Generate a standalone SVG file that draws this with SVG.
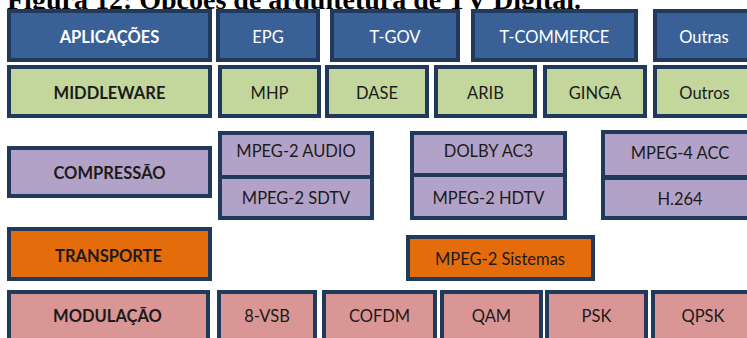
<svg xmlns="http://www.w3.org/2000/svg" width="747" height="338" viewBox="0 0 747 338">
<style>
.n{stroke:#213a5c;stroke-width:4}
.ap{fill:#3a6197}
.mw{fill:#c3d69b}
.cp{fill:#b3a2c7}
.tr{fill:#e46c0a}
.md{fill:#d99694}
text{font-family:Lato,"Open Sans",sans-serif;font-size:16.5px;text-anchor:middle;fill:#1b1b1b}
.b{font-weight:bold}
.w{fill:#ffffff}
.title{font-family:"Liberation Serif","Times New Roman",serif;font-size:28px;font-weight:bold;text-anchor:start;fill:#000}
</style>
<rect width="747" height="338" fill="#ffffff"/>
<text class="title" x="7" y="9">Figura 12: Opções de arquitetura de TV Digital.</text>
<g id="connectors"/>
<g id="aplicacoes"><rect class="n ap" x="9" y="11" width="201" height="49"/><text class="b w" x="109.5" y="43">APLICAÇÕES</text></g>
<g id="epg"><rect class="n ap" x="218" y="11" width="100" height="49"/><text class="w" x="268" y="43">EPG</text></g>
<g id="tgov"><rect class="n ap" x="332" y="11" width="126" height="49"/><text class="w" x="395" y="43">T-GOV</text></g>
<g id="tcommerce"><rect class="n ap" x="473" y="11" width="163" height="49"/><text class="w" x="554.5" y="43">T-COMMERCE</text></g>
<g id="outras"><rect class="n ap" x="655" y="11" width="100" height="49"/><text class="w" x="704" y="43">Outras</text></g>

<g id="middleware"><rect class="n mw" x="9" y="67" width="201" height="49"/><text class="b" x="109.5" y="99">MIDDLEWARE</text></g>
<g id="mhp"><rect class="n mw" x="220" y="67" width="99" height="49"/><text x="269.5" y="99">MHP</text></g>
<g id="dase"><rect class="n mw" x="327" y="67" width="100" height="49"/><text x="377" y="99">DASE</text></g>
<g id="arib"><rect class="n mw" x="436" y="67" width="99" height="49"/><text x="485.5" y="99">ARIB</text></g>
<g id="ginga"><rect class="n mw" x="545" y="67" width="100" height="49"/><text x="595" y="99">GINGA</text></g>
<g id="outros"><rect class="n mw" x="655" y="67" width="100" height="49"/><text x="704.5" y="99">Outros</text></g>

<g id="compressao"><rect class="n cp" x="9" y="148" width="201" height="48"/><text class="b" x="109.5" y="179">COMPRESSÃO</text></g>
<g id="mpeg2audio"><rect class="n cp" x="220" y="133" width="152" height="44"/><text x="296" y="157">MPEG-2 AUDIO</text></g>
<g id="mpeg2sdtv"><rect class="n cp" x="220" y="177" width="152" height="41"/><text x="296" y="204">MPEG-2 SDTV</text></g>
<g id="dolbyac3"><rect class="n cp" x="412" y="133" width="153" height="42"/><text x="488.5" y="157">DOLBY AC3</text></g>
<g id="mpeg2hdtv"><rect class="n cp" x="412" y="175" width="153" height="43"/><text x="488.5" y="204">MPEG-2 HDTV</text></g>
<g id="mpeg4acc"><rect class="n cp" x="603" y="132" width="152" height="45"/><text x="680" y="159">MPEG-4 ACC</text></g>
<g id="h264"><rect class="n cp" x="603" y="178" width="152" height="40"/><text x="680" y="205">H.264</text></g>

<g id="transporte"><rect class="n tr" x="9" y="229" width="201" height="50"/><text class="b" x="108.5" y="262">TRANSPORTE</text></g>
<g id="mpeg2sistemas"><rect class="n tr" x="408" y="237" width="185" height="42"/><text x="500" y="265">MPEG-2 Sistemas</text></g>

<g id="modulacao"><rect class="n md" x="9" y="292" width="199" height="60"/><text class="b" x="107.5" y="322">MODULAÇÃO</text></g>
<g id="vsb"><rect class="n md" x="219" y="292" width="96" height="60"/><text x="267" y="322">8-VSB</text></g>
<g id="cofdm"><rect class="n md" x="324" y="292" width="111" height="60"/><text x="379.5" y="322">COFDM</text></g>
<g id="qam"><rect class="n md" x="442" y="292" width="99" height="60"/><text x="491.5" y="322">QAM</text></g>
<g id="psk"><rect class="n md" x="547" y="292" width="99" height="60"/><text x="596.5" y="322">PSK</text></g>
<g id="qpsk"><rect class="n md" x="653" y="292" width="102" height="60"/><text x="703" y="322">QPSK</text></g>
</svg>
